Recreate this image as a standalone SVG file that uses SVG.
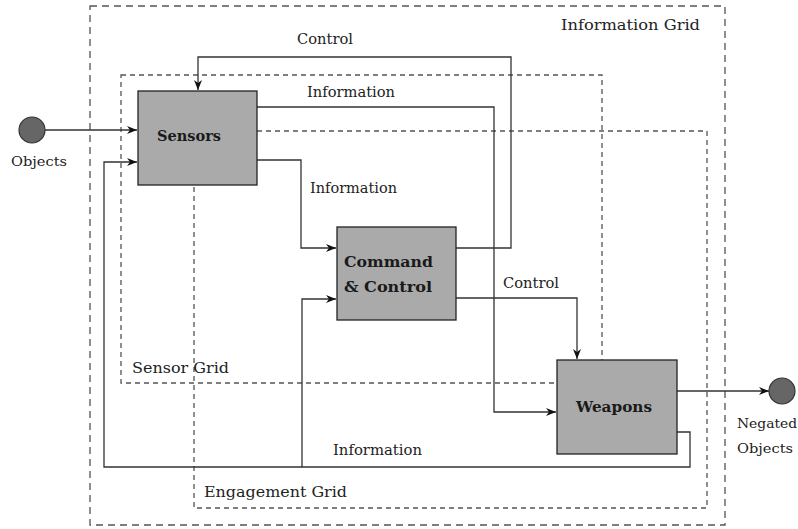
<svg xmlns="http://www.w3.org/2000/svg" width="798" height="529" viewBox="0 0 798 529">
  <style>
    .grid { fill: none; stroke: #555; stroke-width: 1.3; }
    .outer { stroke-dasharray: 7 5; }
    .inner { stroke-dasharray: 5 4; }
    .wire { fill: none; stroke: #333; stroke-width: 1.3; }
    .box { fill: #aaaaaa; stroke: #222; stroke-width: 1.3; }
    .dot { fill: #666; stroke: #333; stroke-width: 1.2; }
    .lbl { font-family: "DejaVu Serif", serif; font-size: 14px; fill: #222; }
    .small { font-size: 13px; }
    .name { font-family: "DejaVu Serif", serif; font-size: 14px; font-weight: bold; fill: #1a1a1a; }
  </style>
  <defs>
    <marker id="arrow" markerUnits="userSpaceOnUse" markerWidth="11" markerHeight="9" refX="10" refY="4" orient="auto">
      <path d="M0,0 L10,4 L0,8 L3,4 z" fill="#111"/>
    </marker>
  </defs>

  <rect width="798" height="529" fill="#fff"/>

  <!-- grids -->
  <g id="grids">
    <rect class="grid outer" x="90" y="6" width="635" height="519"/>
    <rect class="grid inner" x="121" y="75" width="481" height="308"/>
    <rect class="grid inner" x="194" y="131" width="513" height="377"/>
    <text class="lbl" x="561" y="30" textLength="139" lengthAdjust="spacingAndGlyphs">Information Grid</text>
    <text class="lbl" x="132" y="373" textLength="97" lengthAdjust="spacingAndGlyphs">Sensor Grid</text>
    <text class="lbl" x="204" y="497" textLength="143" lengthAdjust="spacingAndGlyphs">Engagement Grid</text>
  </g>

  <!-- connectors -->
  <g id="connectors">
    <path class="wire" d="M45,130 H137" marker-end="url(#arrow)"/>
    <path class="wire" d="M456,248 H511 V57 H198 V90" marker-end="url(#arrow)"/>
    <path class="wire" d="M257,107 H494 V412 H556" marker-end="url(#arrow)"/>
    <path class="wire" d="M257,160 H301 V248 H336" marker-end="url(#arrow)"/>
    <path class="wire" d="M456,298 H577 V359" marker-end="url(#arrow)"/>
    <path class="wire" d="M677,432 H690 V467 H104 V162 H137" marker-end="url(#arrow)"/>
    <path class="wire" d="M302,467 V299 H336" marker-end="url(#arrow)"/>
    <path class="wire" d="M677,391 H769" marker-end="url(#arrow)"/>
    <text class="lbl" x="297" y="44" textLength="56" lengthAdjust="spacingAndGlyphs">Control</text>
    <text class="lbl" x="307" y="97" textLength="88" lengthAdjust="spacingAndGlyphs">Information</text>
    <text class="lbl" x="310" y="193" textLength="87" lengthAdjust="spacingAndGlyphs">Information</text>
    <text class="lbl" x="503" y="288" textLength="56" lengthAdjust="spacingAndGlyphs">Control</text>
    <text class="lbl" x="333" y="455" textLength="89" lengthAdjust="spacingAndGlyphs">Information</text>
  </g>

  <!-- nodes -->
  <g id="objects">
    <circle class="dot" cx="32" cy="130" r="13"/>
    <text class="lbl small" x="11" y="166" textLength="56" lengthAdjust="spacingAndGlyphs">Objects</text>
  </g>
  <g id="sensors">
    <rect class="box" x="138" y="91" width="119" height="94"/>
    <text class="name" x="157" y="141" textLength="64" lengthAdjust="spacingAndGlyphs">Sensors</text>
  </g>
  <g id="command-control">
    <rect class="box" x="337" y="227" width="119" height="93"/>
    <text class="name" x="344" y="267" textLength="89" lengthAdjust="spacingAndGlyphs">Command</text>
    <text class="name" x="344" y="292" textLength="88" lengthAdjust="spacingAndGlyphs">&amp; Control</text>
  </g>
  <g id="weapons">
    <rect class="box" x="557" y="360" width="120" height="94"/>
    <text class="name" x="576" y="412" textLength="76" lengthAdjust="spacingAndGlyphs">Weapons</text>
  </g>
  <g id="negated-objects">
    <circle class="dot" cx="782" cy="391" r="13"/>
    <text class="lbl small" x="737" y="428" textLength="60" lengthAdjust="spacingAndGlyphs">Negated</text>
    <text class="lbl small" x="737" y="453" textLength="56" lengthAdjust="spacingAndGlyphs">Objects</text>
  </g>
</svg>
